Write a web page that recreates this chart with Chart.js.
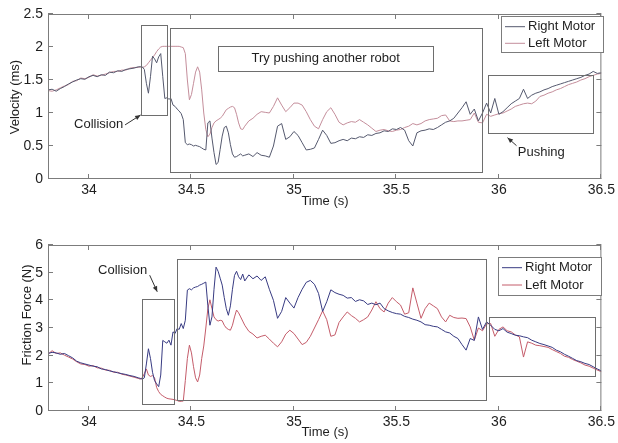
<!DOCTYPE html>
<html>
<head>
<meta charset="utf-8">
<script src="https://cdn.jsdelivr.net/npm/chart.js@4"></script>
<style>
  html, body { margin: 0; padding: 0; background: #fff; }
  #wrap { position: relative; width: 618px; height: 443px; }
  canvas { position: absolute; left: 0; }
  #velChart { top: 0; }
  #forceChart { top: 220px; }
</style>
</head>
<body>
<div id="wrap">
  <canvas id="velChart" width="618" height="220"></canvas>
  <canvas id="forceChart" width="618" height="223"></canvas>
</div>
<script>
// time samples (s): coarse before the collision, fine during it, coarse after
const time = [
  33.80,33.82,33.84,33.86,33.88,33.90,33.92,33.94,33.96,33.98,34.00,34.02,34.04,34.06,34.08,34.10,34.12,34.14,34.16,34.18,34.20,34.22,34.24,
  34.25,34.26,34.27,34.28,34.29,34.30,34.31,34.32,34.33,34.34,
  34.35,34.36,34.37,34.38,34.39,34.40,34.41,34.42,34.43,34.44,
  34.45,34.46,34.47,34.48,34.49,34.50,34.51,34.52,34.53,34.54,
  34.55,34.56,34.57,34.58,34.59,34.60,34.61,34.62,34.63,34.64,
  34.65,34.66,34.67,34.68,34.69,34.70,34.71,34.72,34.73,34.74,34.75,
  34.76,34.78,34.80,34.82,34.84,34.86,34.88,34.90,34.92,34.94,
  34.96,34.98,35.00,35.02,35.04,35.06,35.08,35.10,35.12,35.14,
  35.16,35.18,35.20,35.22,35.24,35.26,35.28,35.30,35.32,35.34,
  35.36,35.38,35.40,35.42,35.44,35.46,35.48,35.50,35.52,35.54,
  35.56,35.58,35.60,35.62,35.64,35.66,35.68,35.70,35.72,35.74,
  35.76,35.78,35.80,35.82,35.84,35.86,35.88,35.90,35.92,35.94,
  35.96,35.98,36.00,36.02,36.04,36.06,36.08,36.10,36.12,36.14,
  36.16,36.18,36.20,36.22,36.24,36.26,36.28,36.30,36.32,36.34,
  36.36,36.38,36.40,36.42,36.44,36.46,36.48,36.50
];

// velocity (ms)
const velRight = [
  1.35,1.36,1.33,1.37,1.40,1.44,1.47,1.50,1.52,1.51,1.55,1.57,1.55,1.58,1.57,1.62,1.61,1.64,1.63,1.66,1.67,1.68,1.70,
  1.70,1.70,1.66,1.45,1.30,1.55,1.86,1.82,1.76,1.85,
  1.90,1.55,1.22,1.23,1.21,1.22,1.12,1.10,1.06,1.03,
  0.99,0.90,0.55,0.52,0.53,0.52,0.50,0.51,0.50,0.49,
  0.47,0.45,0.44,0.85,0.88,0.62,0.40,0.22,0.25,0.45,
  0.65,0.78,0.80,0.70,0.52,0.38,0.33,0.34,0.36,0.38,0.35,
  0.36,0.38,0.34,0.40,0.36,0.35,0.33,0.50,0.80,0.84,
  0.60,0.64,0.72,0.66,0.55,0.44,0.45,0.47,0.60,0.74,
  0.66,0.54,0.55,0.58,0.60,0.58,0.62,0.61,0.64,0.63,
  0.67,0.66,0.69,0.70,0.73,0.72,0.76,0.75,0.78,0.74,
  0.58,0.50,0.70,0.73,0.74,0.76,0.75,0.78,0.82,0.86,
  0.88,0.92,1.00,1.08,1.17,0.98,1.06,0.88,1.00,1.15,
  1.00,1.22,0.98,1.02,1.08,1.14,1.18,1.22,1.36,1.22,
  1.27,1.30,1.32,1.35,1.37,1.40,1.42,1.44,1.46,1.48,
  1.50,1.52,1.54,1.57,1.59,1.63,1.60,1.61
];
const velLeft = [
  1.34,1.33,1.35,1.38,1.41,1.43,1.48,1.49,1.53,1.52,1.54,1.58,1.56,1.57,1.59,1.61,1.63,1.63,1.65,1.65,1.68,1.69,1.69,
  1.70,1.69,1.70,1.72,1.76,1.80,1.84,1.88,1.93,1.97,
  2.00,2.01,2.01,2.01,2.01,2.01,2.01,2.01,2.01,2.01,
  2.00,1.99,1.90,1.50,1.20,1.28,1.45,1.62,1.70,1.62,
  1.35,1.00,0.75,0.64,0.68,0.78,0.85,0.88,0.90,0.92,
  0.95,1.00,1.05,1.07,1.09,1.10,1.08,0.98,0.85,0.76,0.75,
  0.80,0.88,0.92,0.98,1.02,1.01,1.00,1.10,1.23,1.12,
  1.02,1.08,1.15,1.15,1.12,1.02,0.90,0.80,0.76,0.90,
  1.02,1.08,0.98,0.86,0.82,0.85,0.87,0.86,0.90,0.86,
  0.82,0.77,0.72,0.74,0.75,0.73,0.72,0.74,0.75,0.78,
  0.80,0.84,0.82,0.84,0.88,0.90,0.91,0.92,0.96,0.97,
  0.88,0.87,0.88,0.88,0.89,0.90,1.00,0.86,0.85,0.98,
  0.95,0.97,0.99,1.00,1.03,1.06,1.10,1.12,1.14,1.15,
  1.14,1.18,1.25,1.27,1.30,1.32,1.35,1.37,1.40,1.43,
  1.45,1.47,1.50,1.52,1.55,1.57,1.59,1.60
];

// friction force (N)
const forceRight = [
  2.08,2.12,2.10,2.05,2.08,2.00,1.92,1.80,1.74,1.70,1.66,1.62,1.60,1.52,1.50,1.45,1.42,1.38,1.35,1.32,1.28,1.25,1.20,
  1.18,1.15,1.20,1.70,2.25,1.90,1.40,1.10,0.98,0.88,
  1.30,2.55,2.50,2.45,2.56,2.38,2.86,2.80,2.98,2.95,
  3.16,2.98,3.28,4.37,4.42,4.38,4.45,4.48,4.50,4.55,
  4.58,4.62,4.66,3.80,3.10,3.40,4.40,5.20,5.05,4.80,
  4.55,4.10,3.70,3.46,3.80,4.40,4.90,5.05,4.85,4.75,4.95,
  4.70,4.92,4.78,4.88,4.72,4.85,4.40,4.00,3.35,3.60,
  4.10,3.90,3.72,4.10,4.40,4.65,4.72,4.58,4.25,3.60,
  3.95,4.38,4.28,4.22,4.18,4.08,4.10,3.96,4.02,3.98,
  3.85,3.90,3.84,3.90,3.70,3.62,3.56,3.52,3.50,3.42,
  3.38,3.32,3.28,3.22,3.12,3.10,3.06,3.04,2.95,2.86,
  2.82,2.70,2.62,2.40,2.20,2.62,2.55,3.40,2.95,3.22,
  3.10,2.95,2.90,2.98,2.85,2.80,2.74,2.72,2.68,2.65,
  2.56,2.50,2.44,2.40,2.35,2.30,2.20,2.14,2.05,1.98,
  1.90,1.82,1.78,1.72,1.68,1.60,1.52,1.45
];
const forceLeft = [
  2.05,2.18,2.08,2.10,2.02,1.95,1.88,1.78,1.70,1.68,1.62,1.64,1.56,1.55,1.48,1.47,1.40,1.40,1.33,1.30,1.26,1.22,1.18,
  1.15,1.20,1.35,1.52,1.30,1.25,1.28,1.20,0.85,0.70,
  0.60,0.55,0.50,0.46,0.44,0.43,0.42,0.40,0.38,0.35,
  0.35,0.36,1.10,1.90,2.38,2.10,1.60,1.20,1.05,1.30,
  1.90,2.35,3.00,3.70,4.02,3.70,3.40,3.30,3.25,3.28,
  3.26,3.10,3.00,2.95,2.92,3.10,3.40,3.65,3.55,3.40,3.25,
  3.10,2.88,2.78,2.64,2.70,2.74,2.60,2.45,2.32,2.50,
  2.78,2.92,2.80,2.60,2.40,2.48,2.70,3.00,3.30,3.62,
  3.30,2.70,2.75,3.20,3.40,3.58,3.45,3.35,3.22,3.30,
  3.40,3.65,3.95,3.70,3.58,3.90,4.10,3.95,3.83,3.50,
  3.55,4.45,3.90,3.35,3.70,3.90,3.80,3.70,3.40,3.22,
  3.46,3.38,3.35,3.36,3.34,3.04,2.56,3.00,2.90,3.15,
  3.16,2.70,2.95,3.04,2.90,2.86,2.75,2.68,1.95,2.50,
  2.45,2.38,2.36,2.33,2.30,2.22,2.15,2.08,1.98,1.94,
  1.86,1.80,1.74,1.66,1.62,1.55,1.48,1.42
];

const xTicks = [34, 34.5, 35, 35.5, 36, 36.5];
const velTicks = [0, 0.5, 1, 1.5, 2, 2.5];
const forceTicks = [0, 1, 2, 3, 4, 5, 6];
const seriesNames = ['Right Motor', 'Left Motor'];

const FONT = '"Liberation Sans", Arial, sans-serif';
const TEXT = '#1e1e1e';
const FRAME = '#7c7c7c';

// boxes, notes and arrows of the figure, in data units
const velNotes = {
  boxes: [[34.252, 0.97, 34.379, 2.34], [34.393, 0.10, 35.917, 2.29], [34.631, 1.63, 35.68, 2.01], [35.947, 0.69, 36.461, 1.58]],
  labels: [['Collision', 34.047, 0.82], ['Try pushing another robot', 35.155, 1.82], ['Pushing', 36.207, 0.40]],
  arrows: [[34.176, 0.82, 34.252, 0.97], [36.086, 0.505, 36.042, 0.626]],
  legend: { x: 501, y: 16, w: 102, h: 36, rows: [26.7, 43.3], line: [505, 525], text: 528 },
  xTitle: [325, 201], yTitle: ['Velocity (ms)', 15, 97]
};
const forceNotes = {
  boxes: [[34.261, 0.24, 34.417, 4.04], [34.43, 0.39, 35.935, 5.48], [35.95, 1.28, 36.47, 3.40]],
  labels: [['Collision', 34.164, 5.07]],
  arrows: [[34.296, 4.91, 34.333, 4.31]],
  legend: { x: 498, y: 37, w: 103, h: 38, rows: [47.7, 65], line: [502, 522], text: 525 },
  xTitle: [325, 212], yTitle: ['Friction Force (N)', 27, 95]
};

function seg(ctx, x1, y1, x2, y2) {
  ctx.beginPath();
  ctx.moveTo(x1, y1);
  ctx.lineTo(x2, y2);
  ctx.stroke();
}

const figureDecor = {
  id: 'figureDecor',
  afterDraw(chart, args, opts) {
    const { ctx, chartArea: a, scales: { x, y } } = chart;
    const n = opts.notes;
    ctx.save();
    ctx.lineWidth = 1;
    ctx.strokeStyle = FRAME;
    ctx.strokeRect(a.left + 0.5, a.top + 0.5, a.right - a.left - 1, a.bottom - a.top - 1);

    // inward tick marks on all four sides
    x.ticks.forEach(t => {
      const px = Math.round(x.getPixelForValue(t.value)) - 0.5;
      seg(ctx, px, a.bottom, px, a.bottom - 5);
      seg(ctx, px, a.top, px, a.top + 5);
    });
    y.ticks.forEach(t => {
      const py = Math.round(y.getPixelForValue(t.value)) - 0.5;
      seg(ctx, a.left, py, a.left + 5, py);
      seg(ctx, a.right, py, a.right - 5, py);
    });

    // annotation boxes
    ctx.strokeStyle = '#6e6e6e';
    n.boxes.forEach(([x1, y1, x2, y2]) => {
      const l = Math.round(x.getPixelForValue(x1)) + 0.5, r = Math.round(x.getPixelForValue(x2)) + 0.5;
      const t = Math.round(y.getPixelForValue(y2)) + 0.5, b = Math.round(y.getPixelForValue(y1)) + 0.5;
      ctx.strokeRect(l, t, r - l, b - t);
    });

    ctx.fillStyle = TEXT;
    ctx.font = '13px ' + FONT;
    ctx.textAlign = 'center';
    ctx.textBaseline = 'middle';
    n.labels.forEach(([txt, lx, ly]) => ctx.fillText(txt, x.getPixelForValue(lx), y.getPixelForValue(ly)));

    // arrows
    ctx.strokeStyle = '#333';
    ctx.fillStyle = '#333';
    n.arrows.forEach(([x1, y1, x2, y2]) => {
      const p1 = [x.getPixelForValue(x1), y.getPixelForValue(y1)];
      const p2 = [x.getPixelForValue(x2), y.getPixelForValue(y2)];
      seg(ctx, p1[0], p1[1], p2[0], p2[1]);
      const ang = Math.atan2(p2[1] - p1[1], p2[0] - p1[0]);
      ctx.beginPath();
      ctx.moveTo(p2[0], p2[1]);
      ctx.lineTo(p2[0] - 6 * Math.cos(ang - 0.4), p2[1] - 6 * Math.sin(ang - 0.4));
      ctx.lineTo(p2[0] - 6 * Math.cos(ang + 0.4), p2[1] - 6 * Math.sin(ang + 0.4));
      ctx.closePath();
      ctx.fill();
    });

    // legend box
    const lg = n.legend;
    ctx.fillStyle = '#fff';
    ctx.fillRect(lg.x, lg.y, lg.w, lg.h);
    ctx.strokeStyle = FRAME;
    ctx.strokeRect(lg.x + 0.5, lg.y + 0.5, lg.w, lg.h);
    chart.data.datasets.forEach((ds, i) => {
      const ry = lg.rows[i];
      ctx.strokeStyle = ds.borderColor;
      seg(ctx, lg.line[0], ry, lg.line[1], ry);
      ctx.fillStyle = TEXT;
      ctx.textAlign = 'left';
      ctx.fillText(ds.label, lg.text, ry);
    });

    // axis titles
    ctx.fillStyle = TEXT;
    ctx.textAlign = 'center';
    ctx.fillText('Time (s)', n.xTitle[0], n.xTitle[1]);
    ctx.translate(n.yTitle[1], n.yTitle[2]);
    ctx.rotate(-Math.PI / 2);
    ctx.fillText(n.yTitle[0], 0, 0);
    ctx.restore();
  }
};

function makePlot(id, right, left, colors, yTicks, yMax, xAxisHeight, topPad, notes) {
  const pts = vals => time.map((t, i) => ({ x: t, y: vals[i] }));
  return new Chart(document.getElementById(id), {
    type: 'line',
    data: {
      datasets: [
        { label: seriesNames[0], data: pts(right), borderColor: colors[0], borderWidth: 1, pointRadius: 0, tension: 0 },
        { label: seriesNames[1], data: pts(left), borderColor: colors[1], borderWidth: 1, pointRadius: 0, tension: 0 }
      ]
    },
    options: {
      responsive: false,
      animation: false,
      devicePixelRatio: 1,
      layout: { padding: { top: topPad, right: 15, left: 0, bottom: 0 } },
      plugins: {
        legend: { display: false },
        tooltip: { enabled: false },
        figureDecor: { notes }
      },
      scales: {
        x: {
          type: 'linear', min: 33.8, max: 36.5,
          grid: { display: false, drawTicks: false }, border: { display: false },
          afterBuildTicks: s => { s.ticks = xTicks.map(v => ({ value: v })); },
          afterFit: s => { s.height = xAxisHeight; },
          ticks: { color: TEXT, font: { family: FONT, size: 14 }, padding: 3, maxRotation: 0, autoSkip: false, callback: v => String(v) }
        },
        y: {
          min: 0, max: yMax,
          grid: { display: false, drawTicks: false }, border: { display: false },
          afterBuildTicks: s => { s.ticks = yTicks.map(v => ({ value: v })); },
          afterFit: s => { s.width = 48; },
          ticks: { color: TEXT, font: { family: FONT, size: 14 }, padding: 5, callback: v => String(v) }
        }
      }
    },
    plugins: [figureDecor]
  });
}

makePlot('velChart', velRight, velLeft, ['#55596e', '#c48e9b'], velTicks, 2.5, 41, 14, velNotes);
makePlot('forceChart', forceRight, forceLeft, ['#383b82', '#c45c6a'], forceTicks, 6, 32, 25, forceNotes);
</script>
</body>
</html>
